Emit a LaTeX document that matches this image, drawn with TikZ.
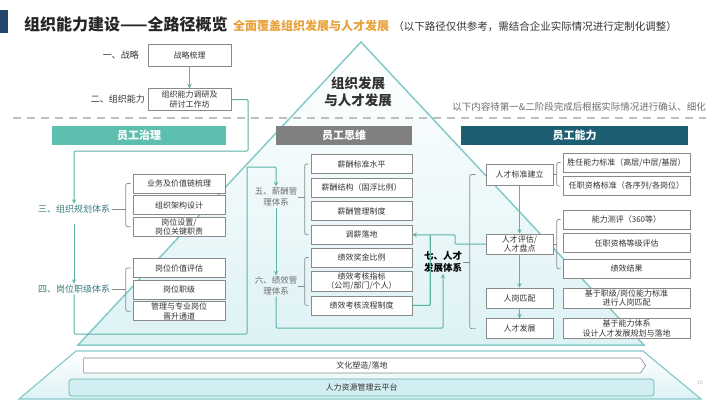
\documentclass[tikz,border=0pt]{standalone}
\usepackage{fontspec}
\setmainfont{Noto Sans CJK SC}
\usepackage{xcolor}
\usetikzlibrary{shapes,arrows,positioning,calc}

\definecolor{navy}{HTML}{24486B}
\definecolor{tealln}{HTML}{5DB3A6}
\definecolor{trisd}{HTML}{86CACB}
\definecolor{trilow}{HTML}{DDF2F5}
\definecolor{govfill}{HTML}{5FBFAE}
\definecolor{mindfill}{HTML}{808080}
\definecolor{capfill}{HTML}{1D5E73}
\definecolor{boxln}{HTML}{8A8A8A}
\definecolor{txtgray}{HTML}{333333}
\definecolor{subgray}{HTML}{6E6E6E}
\definecolor{orangetxt}{HTML}{E9A23B}
\definecolor{labteal}{HTML}{357F7C}
\definecolor{cloudfill}{HTML}{D3EEF3}

\begin{document}
\begin{tikzpicture}[
    x=1pt, y=-1pt,
    node distance=4pt,
    block/.style={rectangle, draw=boxln, line width=0.6pt, fill=white, text=txtgray, align=center, inner sep=1pt, font=\fontsize{8}{9.5}\selectfont},
    lblock/.style={block, minimum width=92pt, minimum height=19pt},
    mblock/.style={block, minimum width=101pt, minimum height=19pt},
    tblock/.style={block, minimum width=67pt, minimum height=20pt},
    rblock/.style={block, minimum width=127pt, minimum height=19pt},
    header/.style={rectangle, minimum height=19pt, text=white, font=\fontsize{11}{13}\selectfont\bfseries},
    stagelbl/.style={inner sep=1pt, align=center, text=txtgray, font=\fontsize{9}{11}\selectfont},
    arrow/.style={->,>=stealth, draw=tealln, line width=1pt},
    flow/.style={draw=tealln, line width=1.2pt, rounded corners=1pt},
    brk/.style={draw=boxln, line width=0.7pt, rounded corners=2pt},
    dashln/.style={draw=black!25, line width=1.6pt, dash pattern=on 8pt off 6pt}
]
\useasboundingbox (0,0) rectangle (720,405);
\fill[white] (0,0) rectangle (720,405);
\fill[navy] (0,10) rectangle (8,33);

\node[anchor=base west, inner sep=0, text=black!85, font=\fontsize{16}{18}\selectfont\bfseries] (title) at (24,30) {组织能力建设——全路径概览};
\node[anchor=base west, inner sep=0, text=orangetxt, font=\fontsize{12}{14}\selectfont\bfseries] (tagline) at ([xshift=5pt]title.base east) {全面覆盖组织发展与人才发展};
\node[anchor=base west, inner sep=0, text=txtgray, font=\fontsize{10.5}{12}\selectfont] (remark) at ([xshift=4pt]tagline.base east) {（以下路径仅供参考，需结合企业实际情况进行定制化调整）};

\draw[draw=trisd, line width=1.5pt, top color=white, bottom color=trilow] (361,42) -- (644,345) -- (78,345) -- cycle;
\draw[draw=trisd, line width=1.2pt, top color=white, bottom color=trilow] (76,351) -- (643,351) -- (701,399) -- (19,399) -- cycle;

\draw[dashln] (13,118) -- (706,118);
\node[anchor=east, inner sep=0, text=subgray, font=\fontsize{9.5}{11}\selectfont] (note) at (706,107) {以下内容待第一\&二阶段完成后根据实际情况进行确认、细化};
\node[align=center, text=black!80, font=\fontsize{13.5}{17}\selectfont\bfseries] (core) at (358,92) {组织发展\\与人才发展};

\node[block, minimum width=83pt, minimum height=22pt] (zl) at (189.5,55) {战略梳理};
\node[block, minimum width=83pt, minimum height=22pt, below=22pt of zl] (org) {组织能力调研及\\研讨工作坊};
\node[stagelbl, anchor=east] (lab1) at (140,55) {一、战略};
\node[stagelbl, anchor=east] (lab2) at (146,99) {二、组织能力};

\node[header, fill=govfill, minimum width=174pt] (hd1) at (139,135.5) {员工治理};
\node[header, fill=mindfill, minimum width=136pt] (hd2) at (344,135.5) {员工思维};
\node[header, fill=capfill, minimum width=227pt] (hd3) at (574.5,135.5) {员工能力};

\node[lblock] (zz1) at (179,183.5) {业务及价值链梳理};
\node[lblock, below=2pt of zz1] (zz2) {组织架构设计};
\node[lblock, below=2pt of zz2] (zz3) {岗位设置/\\岗位关键职责};
\node[lblock] (zj1) at (179,268) {岗位价值评估};
\node[lblock, below=2pt of zj1] (zj2) {岗位职级};
\node[lblock, below=2pt of zj2] (zj3) {管理与专业岗位\\晋升通道};
\node[stagelbl, text=labteal] (lab3) at (74,209) {三、组织规划体系};
\node[stagelbl, text=labteal] (lab4) at (74,289) {四、岗位职级体系};

\node[mblock] (xc1) at (361.5,164) {薪酬标准水平};
\node[mblock, below=of xc1] (xc2) {薪酬结构（固浮比例）};
\node[mblock, below=of xc2] (xc3) {薪酬管理制度};
\node[mblock, below=of xc3] (xc4) {调薪落地};
\node[mblock] (jx1) at (361.5,257.5) {绩效奖金比例};
\node[mblock, below=of jx1] (jx2) {绩效考核指标\\（公司/部门/个人）};
\node[mblock, below=of jx2] (jx3) {绩效考核流程制度};
\node[stagelbl, text=subgray, font=\fontsize{8.5}{11}\selectfont] (lab5) at (276,197) {五、薪酬管\\理体系};
\node[stagelbl, text=subgray, font=\fontsize{8.5}{11}\selectfont] (lab6) at (276,286) {六、绩效管\\理体系};
\node[stagelbl, text=black, font=\fontsize{9.5}{12}\selectfont\bfseries] (lab7) at (443,262) {七、人才\\发展体系};

\node[tblock, minimum height=21pt] (rc1) at (519.5,174.5) {人才标准建立};
\node[tblock] (rc2) at (519.5,244) {人才评估/\\人才盘点};
\node[tblock] (rc3) at (519.5,298) {人岗匹配};
\node[tblock, below=10pt of rc3] (rc4) {人才发展};
\node[rblock] (rb1) at (626.5,162.5) {胜任能力标准（高层/中层/基层）};
\node[rblock, below=of rb1] (rb2) {任职资格标准（各序列/各岗位）};
\node[rblock] (rb3) at (626.5,219.5) {能力测评（360等）};
\node[rblock, below=of rb3] (rb4) {任职资格等级评估};
\node[rblock, below=6pt of rb4] (rb5) {绩效结果};
\node[rblock, minimum height=20pt] (rb6) at (626.5,298) {基于职级/岗位能力标准\\进行人岗匹配};
\node[rblock, minimum height=20pt, below=10pt of rb6] (rb7) {基于能力体系\\设计人才发展规划与落地};

\node[signal, signal to=east, signal pointer angle=110, draw=boxln, fill=white, line width=0.6pt, minimum width=562pt, minimum height=15pt, inner sep=0, text=txtgray, font=\fontsize{8}{9.5}\selectfont] (culture) at (362,365.5) {文化塑造/落地};
\node[draw=tealln, fill=cloudfill, rounded corners=3pt, line width=0.6pt, minimum width=585pt, minimum height=17pt, inner sep=0, text=txtgray, font=\fontsize{8}{9.5}\selectfont] (hrcloud) at (361.5,387.5) {人力资源管理云平台};
\node[text=black!35, font=\fontsize{5}{6}\selectfont] (pgno) at (700,383) {19};

\draw[brk] ([xshift=-2pt]zz1.west) -| ([xshift=-7pt]zz3.west) -- ([xshift=-2pt]zz3.west);
\draw[brk] ([xshift=1pt]lab3.east) -- ([xshift=-7pt]lab3.east -| zz1.west);
\draw[brk] ([xshift=-2pt]zj1.west) -| ([xshift=-7pt]zj3.west) -- ([xshift=-2pt]zj3.west);
\draw[brk] ([xshift=1pt]lab4.east) -- ([xshift=-7pt]lab4.east -| zj1.west);
\draw[brk] ([xshift=-2pt]xc1.west) -| ([xshift=-6pt]xc4.west) -- ([xshift=-2pt]xc4.west);
\draw[brk] (lab5.east) -- ([xshift=-6pt]lab5.east -| xc1.west);
\draw[brk] ([xshift=-2pt]jx1.west) -| ([xshift=-6pt]jx3.west) -- ([xshift=-2pt]jx3.west);
\draw[brk] (lab6.east) -- ([xshift=-6pt]lab6.east -| jx1.west);
\draw[brk] ([xshift=-10pt]rc1.west) -| ([xshift=-16pt]rc4.west) -- ([xshift=-10pt]rc4.west);
\draw[brk] (lab7.east) -- ([xshift=-16pt]lab7.east -| rc1.west);
\draw[brk] ([xshift=-2pt]rb1.west) -| ([xshift=-6pt]rb2.west) -- ([xshift=-2pt]rb2.west);
\draw[brk] (rc1.east) -- ([xshift=-6pt]rc1.east -| rb1.west);
\draw[brk] ([xshift=-2pt]rb3.west) -| ([xshift=-6pt]rb5.west) -- ([xshift=-2pt]rb5.west);
\draw[brk] (rc2.east) -- ([xshift=-6pt]rc2.east -| rb3.west);

\coordinate (g1) at (248,151);
\coordinate (g2) at (247,334);
\coordinate (g3) at (247,167);
\coordinate (g4) at (443,328);
\coordinate (g5) at ($(xc4.east)+(18,0)$);
\coordinate (g6) at (455,238);

\draw[arrow] (zl) -- (org);
\draw[flow, arrow] (org.east) -| (g1) -| (lab3.north);
\draw[flow, arrow, shorten <=10pt] (lab3.south) -- (lab4.north);
\draw[flow, arrow] (lab4.south) |- (g2) -- (g3) -| (lab5.north);
\draw[flow, arrow] (lab5.south) -- (lab6.north);
\draw[flow, arrow] (lab6.south) |- (g4) -- (lab7.south);
\draw[flow] (jx3.east) -| (g5);
\draw[flow, arrow] (rc2.west) -| (g6) |- (xc4.east);
\draw[arrow] (rc1) -- (rc2);
\draw[arrow] (rc2) -- (rc3);
\draw[arrow] (rc3) -- (rc4);

\end{tikzpicture}
\end{document}
